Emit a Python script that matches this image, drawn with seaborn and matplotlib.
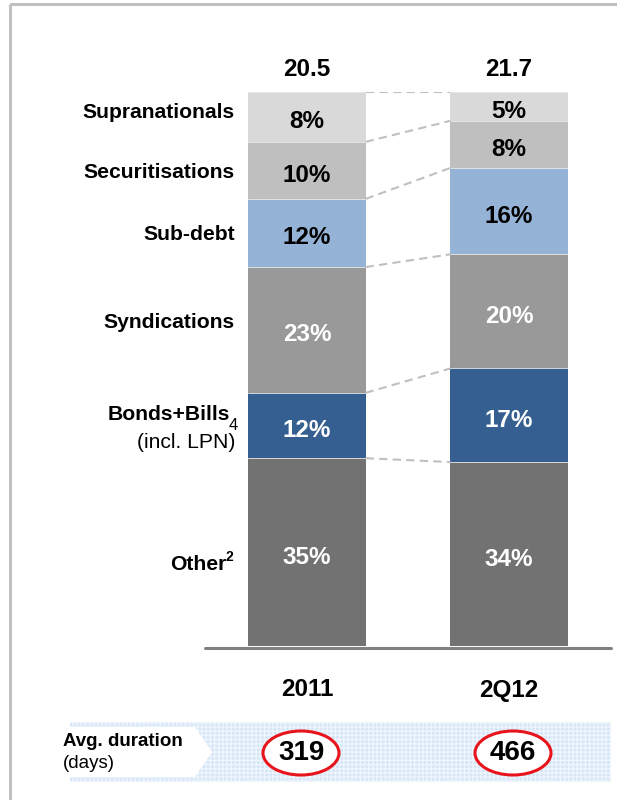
import numpy as np
import pandas as pd
import matplotlib
matplotlib.use("Agg")
import matplotlib.pyplot as plt
from matplotlib.patches import Rectangle, Polygon, Ellipse
import seaborn as sns

# ---------------- data ----------------
categories = ["2011", "2Q12"]
segments = ["Other", "Bonds+Bills", "Syndications", "Sub-debt", "Securitisations", "Supranationals"]  # bottom -> top
# shares (%)
shares_2011 = [33.9, 11.8, 22.7, 12.3, 10.3, 9.0]
shares_2q12 = [33.2, 16.9, 20.6, 15.6, 8.5, 5.2]
# printed labels (%)
labels_2011 = [35, 12, 23, 12, 10, 8]
labels_2q12 = [34, 17, 20, 16, 8, 5]
totals = ["20.5", "21.7"]
durations = ["319", "466"]

colors = {
    "Other": "#727272",
    "Bonds+Bills": "#365F91",
    "Syndications": "#999999",
    "Sub-debt": "#95B3D7",
    "Securitisations": "#BFBFBF",
    "Supranationals": "#D9D9D9",
}
white_text = {"Other", "Bonds+Bills", "Syndications"}

sns.set_theme(style="white")
plt.rcParams["font.family"] = ["Liberation Sans", "DejaVu Sans"]
plt.rcParams["text.color"] = "black"

W, H = 617, 800
fig = plt.figure(figsize=(W / 100, H / 100), dpi=100)

# overlay axes in pixel coordinates (decorations)
ov = fig.add_axes([0, 0, 1, 1])
ov.set_xlim(0, W)
ov.set_ylim(H, 0)
ov.axis("off")

# frame lines
ov.plot([10, W], [4, 4], color="#C0C0C0", lw=2.2, solid_capstyle="butt")
ov.plot([10, 10], [4, H], color="#C0C0C0", lw=2.2, solid_capstyle="butt")

# ---------------- bars ----------------
bx0, bx1, by_top, by_bot = 205, 611, 92, 646
ax = fig.add_axes([bx0 / W, 1 - by_bot / H, (bx1 - bx0) / W, (by_bot - by_top) / H])
ax.patch.set_alpha(0)
px_per_unit = (by_bot - by_top) / 100.0

df = pd.DataFrame({
    "period": np.repeat(categories, len(segments)),
    "segment": segments * len(categories),
    "value": shares_2011 + shares_2q12,
    "label": labels_2011 + labels_2q12,
})
df["cum"] = df.groupby("period")["value"].cumsum()
df["bottom"] = df["cum"] - df["value"]

bar_w = 0.58
for seg in reversed(segments):
    sub = df[df["segment"] == seg]
    sns.barplot(data=sub, x="period", y="cum", order=categories, color=colors[seg],
                saturation=1, width=bar_w, errorbar=None, linewidth=0, ax=ax)

# thin separators
for _, r in df.iterrows():
    xi = categories.index(r["period"])
    ax.plot([xi - bar_w / 2, xi + bar_w / 2], [r["cum"], r["cum"]], color="#EAEAEA", lw=0.6)

ax.set_xlim(-0.505, 1.505)
ax.set_ylim(0, 100)
ax.axis("off")
ax.axhline(-0.35, color="#808080", lw=2.2, clip_on=False)

# segment labels
for _, r in df.iterrows():
    xi = categories.index(r["period"])
    yc = r["bottom"] + r["value"] / 2 - 5 / px_per_unit
    ax.text(xi, yc, f"{r['label']}%", ha="center", va="center", fontsize=17.5,
            fontweight="bold", color="white" if r["segment"] in white_text else "black")

# dashed connectors
for s in range(len(segments)):
    y0 = df[(df.period == categories[0])]["cum"].iloc[s]
    y1 = df[(df.period == categories[1])]["cum"].iloc[s]
    ax.plot([0 + bar_w / 2, 1 - bar_w / 2], [y0, y1], color="#C0C0C0", lw=1.5,
            ls=(0, (4, 2.5)))

# totals and category labels
for i, c in enumerate(categories):
    ax.text(i, 100 + 22 / px_per_unit, totals[i], ha="center", va="center", fontsize=17.5,
            fontweight="bold", clip_on=False)
    ax.text(i, -44 / px_per_unit, c, ha="center", va="center", fontsize=17.5,
            fontweight="bold", clip_on=False)

# left labels (pixel coords on overlay)
lab_kw = dict(ha="right", va="center", fontsize=15.2, fontweight="bold")
ov.text(235, 112, "Supranationals", **lab_kw)
ov.text(235, 172, "Securitisations", **lab_kw)
ov.text(235, 234, "Sub-debt", **lab_kw)
ov.text(235, 323, "Syndications", **lab_kw)
ov.text(230, 415, "Bonds+Bills", **lab_kw)
ov.text(229, 425, "4", ha="left", va="center", fontsize=12)
ov.text(235, 442, "(incl. LPN)", ha="right", va="center", fontsize=15.2)
ov.text(226, 564, "Other", **lab_kw)
ov.text(226, 557, "2", ha="left", va="center", fontsize=10, fontweight="bold")

# ---------------- duration band ----------------
band = Rectangle((70, 722), 611 - 70, 60, facecolor="#D6E6F7", edgecolor="#EEF5FC",
                 lw=0, hatch="++++")
ov.add_patch(band)
arrow = Polygon([(58, 727), (195, 727), (212, 752), (195, 777), (58, 777)],
                closed=True, facecolor="white", edgecolor="none")
ov.add_patch(arrow)
ov.text(63, 741, "Avg. duration", ha="left", va="center", fontsize=13.5, fontweight="bold")
ov.text(63, 763, "(days)", ha="left", va="center", fontsize=13.5)

cx = [301, 513]
for i, d in enumerate(durations):
    ov.add_patch(Ellipse((cx[i], 753), 76, 44, facecolor="white", edgecolor="#E8141C", lw=2.2))
    ov.text(cx[i], 753, d, ha="center", va="center", fontsize=20, fontweight="bold")

fig.savefig("out.png", dpi=100)
